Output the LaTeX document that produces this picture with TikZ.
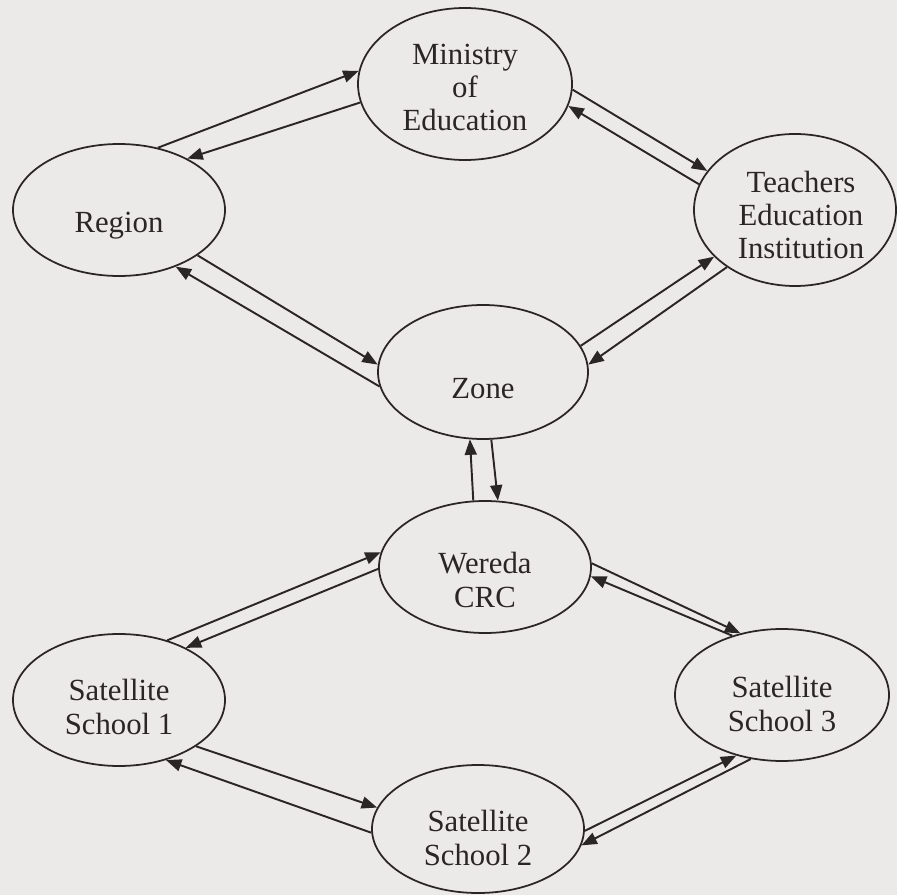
\documentclass[tikz,border=0pt]{standalone}
\usepackage{fontspec}
\setmainfont{Liberation Serif}
\usetikzlibrary{shapes.geometric,arrows.meta}
\definecolor{paper}{RGB}{236,234,232}
\definecolor{ink}{RGB}{42,38,38}
\tikzset{
	unit/.style={draw=ink, line width=1pt, ellipse, inner sep=0pt},
	txt/.style={text=ink, align=center, font=\fontsize{17.5}{19}\selectfont},
	>={Triangle[length=3.1mm,width=2.4mm]}
}
\begin{document}
\begin{tikzpicture}[x=0.2mm, y=-0.2mm]

\useasboundingbox[fill=paper] (0,0) rectangle (897,895);

%units
\node[unit, minimum width=42.8mm, minimum height=30.4mm,
	label={[txt,yshift=-0.7mm]center:{Ministry\\of\\Education}}] (ministry) at (465,84) {};
\node[unit, minimum width=42.4mm, minimum height=26.4mm,
	label={[txt,yshift=-3.1mm]center:Region}] (region) at (119,210) {};
\node[unit, minimum width=40.4mm, minimum height=30.4mm,
	label={[txt,xshift=1.2mm,yshift=-1mm]center:{Teachers\\Education\\Institution}}] (tei) at (795,210) {};
\node[unit, minimum width=42mm, minimum height=26.8mm,
	label={[txt,yshift=-3.4mm]center:Zone}] (zone) at (483,372) {};
\node[unit, minimum width=42.4mm, minimum height=26.4mm,
	label={[txt,yshift=-2.6mm]center:{Wereda\\CRC}}] (wereda) at (485,567) {};
\node[unit, minimum width=42.4mm, minimum height=26.4mm,
	label={[txt,yshift=-1.4mm]center:{Satellite\\School 1}}] (sat1) at (119,700) {};
\node[unit, minimum width=42.8mm, minimum height=26.4mm,
	label={[txt,yshift=-1.8mm]center:{Satellite\\School 3}}] (sat3) at (782,695) {};
\node[unit, minimum width=42.4mm, minimum height=25.6mm,
	label={[txt,yshift=-1.8mm]center:{Satellite\\School 2}}] (sat2) at (478,829) {};

%connectors
\foreach \s/\t in {region.58/ministry.173, ministry.190/region.37,
		ministry.-3/tei.156, tei.165/ministry.-12,
		region.-30/zone.176, zone.188/region.-45,
		zone.15/tei.210, tei.220/zone.4,
		wereda.100/zone.259, zone.-83/wereda.79,
		sat1.51/wereda.172, wereda.181/sat1.38,
		wereda.2/sat3.124, sat3.130/wereda.-5,
		sat1.-31/sat2.168, sat2.182/sat1.-52,
		sat2.-1/sat3.233, sat3.244/sat2.-9}
	\draw[->, draw=ink, line width=1.1pt] (\s) -- (\t);

\end{tikzpicture}
\end{document}
